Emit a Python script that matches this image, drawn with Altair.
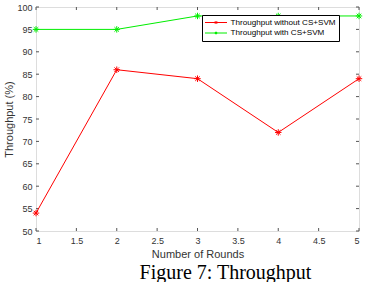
import altair as alt
import pandas as pd

rounds = [1, 2, 3, 4, 5]
without_cs_svm = [54, 86, 84, 72, 84]
with_cs_svm = [95, 95, 98, 98, 98]
series_names = ["Throughput without CS+SVM", "Throughput with CS+SVM"]
series_colors = ["#ff0000", "#00ee00"]
x_ticks = [1, 1.5, 2, 2.5, 3, 3.5, 4, 4.5, 5]
y_ticks = [50, 55, 60, 65, 70, 75, 80, 85, 90, 95, 100]

rows = []
for name, vals in zip(series_names, [without_cs_svm, with_cs_svm]):
    for r, v in zip(rounds, vals):
        rows.append({"round": r, "value": v, "series": name})
df = pd.DataFrame(rows)
xt = pd.DataFrame({"t": x_ticks})
yt = pd.DataFrame({"t": y_ticks})

W, H = 323, 224
FONT = "Liberation Sans"
BOX = "#555555"
TK = 3

x_scale = alt.Scale(domain=[1, 5], nice=False, zero=False)
y_scale = alt.Scale(domain=[50, 100], nice=False, zero=False)

asterisk = "M-1,0L1,0M0,-1L0,1M-0.7,-0.7L0.7,0.7M-0.7,0.7L0.7,-0.7"
legend_sym = ("M-1,0L1,0M-0.13,0L0.13,0M0,-0.13L0,0.13"
              "M-0.09,-0.09L0.09,0.09M-0.09,0.09L0.09,-0.09")

legend = alt.Legend(
    title=None, orient="none", legendX=166, legendY=8,
    symbolType=legend_sym, symbolSize=484, symbolStrokeWidth=1,
    clipHeight=10, padding=2.5, rowPadding=0.5, labelOffset=3,
    strokeColor="#000000", fillColor="#ffffff",
    labelFont=FONT, labelFontSize=8.1, labelColor="#000000",
)
color = alt.Color("series:N", scale=alt.Scale(domain=series_names, range=series_colors),
                  legend=legend)

x_axis = alt.Axis(values=x_ticks, format="~g", title="Number of Rounds",
                  ticks=False, tickSize=0, domain=False, grid=False,
                  labelPadding=5, labelFont=FONT, labelFontSize=9, labelColor="#333333",
                  titleFont=FONT, titleFontSize=11, titleFontWeight="normal",
                  titleColor="#333333", titlePadding=3)
y_axis = alt.Axis(values=y_ticks, title="Throughput (%)",
                  ticks=False, tickSize=0, domain=False, grid=False,
                  labelPadding=4, labelFont=FONT, labelFontSize=9, labelColor="#333333",
                  titleFont=FONT, titleFontSize=11, titleFontWeight="normal",
                  titleColor="#333333", titlePadding=2)

x = alt.X("round:Q", scale=x_scale, axis=x_axis)
y = alt.Y("value:Q", scale=y_scale, axis=y_axis)

lines = alt.Chart(df).mark_line(strokeWidth=1).encode(x=x, y=y, color=color, detail="series:N")
points = alt.Chart(df).mark_point(shape=asterisk, filled=False, size=42, strokeWidth=1, opacity=1).encode(
    x=x, y=y, color=color)

xtq = alt.X("t:Q", scale=x_scale, axis=x_axis)
ytq = alt.Y("t:Q", scale=y_scale, axis=y_axis)
tick_bottom = alt.Chart(xt).mark_rule(color=BOX, strokeWidth=1).encode(
    x=xtq, y=alt.value(H), y2=alt.value(H - TK))
tick_top = alt.Chart(xt).mark_rule(color=BOX, strokeWidth=1).encode(
    x=xtq, y=alt.value(0), y2=alt.value(TK))
tick_left = alt.Chart(yt).mark_rule(color=BOX, strokeWidth=1).encode(
    y=ytq, x=alt.value(0), x2=alt.value(TK))
tick_right = alt.Chart(yt).mark_rule(color=BOX, strokeWidth=1).encode(
    y=ytq, x=alt.value(W), x2=alt.value(W - TK))

chart = alt.layer(tick_bottom, tick_top, tick_left, tick_right, lines, points).properties(
    width=W, height=H,
    padding={"left": 36, "top": 7, "right": 10, "bottom": 51},
    autosize=alt.AutoSizeParams(type="none"),
    title=alt.TitleParams("Figure 7: Throughput", orient="bottom", anchor="middle",
                          font="Liberation Serif", fontSize=20, fontWeight="normal",
                          color="#000000", dx=28, offset=4),
).configure_view(stroke=BOX, strokeWidth=1).configure(background="white")

chart.save("out.html", embed_options={"renderer": "svg", "actions": False})
